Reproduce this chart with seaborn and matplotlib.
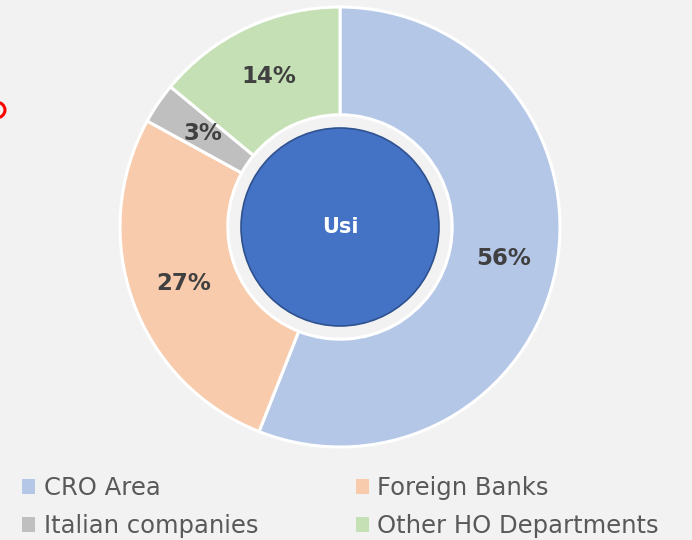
import matplotlib
matplotlib.use("Agg")
import matplotlib.pyplot as plt
from matplotlib.patches import Patch, Circle, Ellipse
import numpy as np
import seaborn as sns

categories = ["CRO Area", "Foreign Banks", "Italian companies", "Other HO Departments"]
shares = [56, 27, 3, 14]
colors = ["#b4c7e7", "#f8cbad", "#bfbfbf", "#c5e0b4"]
center_label = "Usi"

BG = "#f2f2f2"
sns.set_theme(style="white", rc={"figure.facecolor": BG, "axes.facecolor": BG})
plt.rcParams["font.family"] = ["DejaVu Sans"]

W, H = 692, 540
fig = plt.figure(figsize=(W / 100, H / 100), dpi=100)

# donut centred at (340, 227) px with outer radius 220 px
cx, cy, R = 340, 227, 220
ax = fig.add_axes([(cx - R) / W, (H - cy - R) / H, 2 * R / W, 2 * R / H])

wedges, _ = ax.pie(
    shares, colors=colors, startangle=90, counterclock=False, radius=1.0,
    wedgeprops=dict(width=0.49, edgecolor="white", linewidth=2.2),
)
ax.set_xlim(-1.0, 1.0)
ax.set_ylim(-1.0, 1.0)
ax.set_aspect("equal")
ax.axis("off")
for w in wedges:
    w.set_clip_on(False)

# percentage labels inside the ring
total = sum(shares)
cum = 0
for v in shares:
    mid = 90 - 360 * (cum + v / 2) / total
    cum += v
    r = 0.755
    ax.text(r * np.cos(np.radians(mid)), r * np.sin(np.radians(mid)), f"{v}%",
            ha="center", va="center", fontsize=16.5, fontweight="bold", color="#404040")

# central disc
ax.add_patch(Circle((0, 0), 0.45, facecolor="#4472c4", edgecolor="#2f528f", linewidth=1.2, zorder=5))
ax.text(0, 0, center_label, ha="center", va="center", fontsize=15, fontweight="bold",
        color="white", zorder=6)

# legend, two columns
handles = [Patch(facecolor=c, edgecolor="none") for c in colors]
order = [0, 2, 1, 3]
leg = fig.legend([handles[i] for i in order], [categories[i] for i in order],
                 ncol=2, loc="upper left", bbox_to_anchor=(22 / W, 1 - 476 / H),
                 frameon=False, fontsize=17.5, handlelength=0.55, handleheight=0.55,
                 handletextpad=0.35, columnspacing=4.0, labelspacing=0.58,
                 borderpad=0, borderaxespad=0)
for t in leg.get_texts():
    t.set_color("#595959")

# small red outline partly off the left edge
fig.add_artist(Ellipse((-4 / W, 1 - 110 / H), 18 / W, 16 / H, transform=fig.transFigure,
                       facecolor="none", edgecolor="red", linewidth=2.2))

fig.savefig("out.png", dpi=100, facecolor=BG)
